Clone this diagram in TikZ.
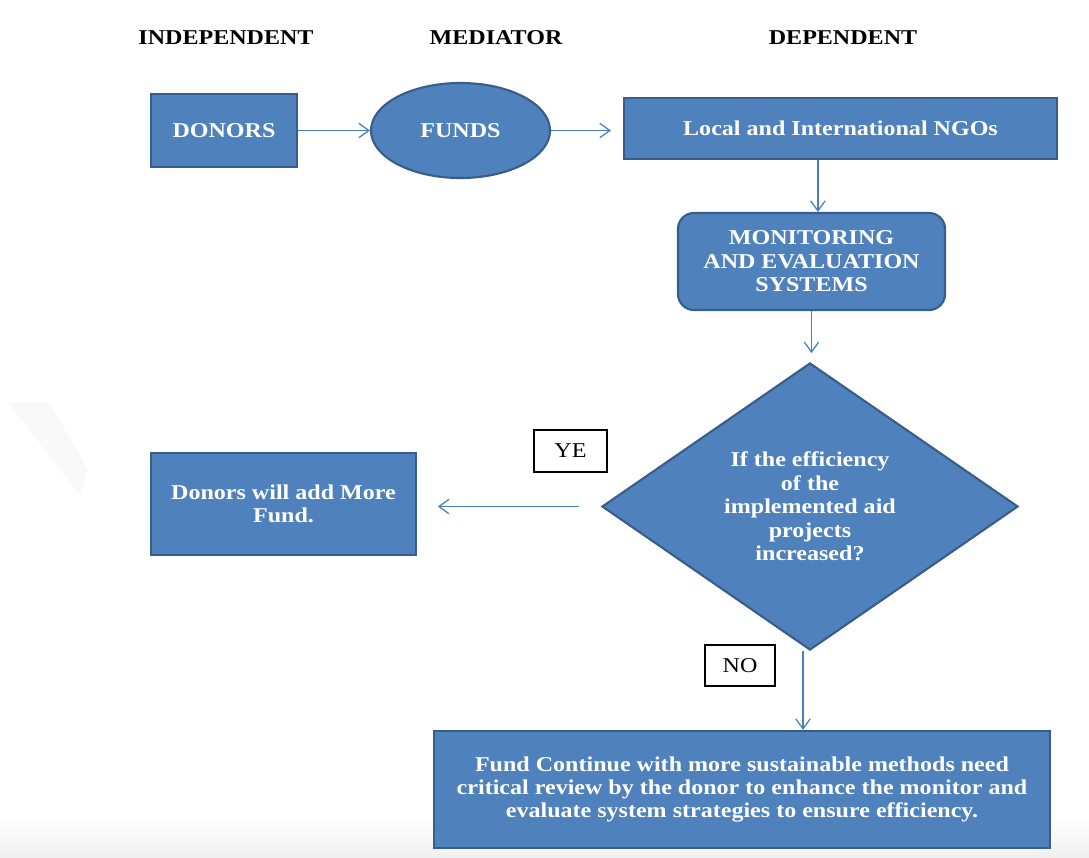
\documentclass[tikz,border=0pt]{standalone}
\usepackage{fontspec}
\setmainfont{Liberation Serif}[FakeStretch=1.14]
\usetikzlibrary{positioning,arrows.meta,calc,shapes.geometric}
\definecolor{boxblue}{HTML}{4F81BD}
\definecolor{boxedge}{HTML}{385D8A}
\definecolor{arrblue}{HTML}{4A7EBB}
\tikzset{
  box/.style={draw=boxedge,fill=boxblue,line width=1.5pt,align=center,text=white,font=\fontsize{15}{16.7}\selectfont\bfseries,inner sep=2pt},
  tag/.style={draw=black,fill=white,line width=0.8pt,font=\fontsize{15}{16}\selectfont},
  head/.style={font=\fontsize{15}{16}\selectfont\bfseries},
  arr/.style={-{Straight Barb[length=2.5mm,width=3.6mm]},draw=arrblue,line width=0.9pt},
}

\begin{document}
\begin{tikzpicture}[x=0.025cm,y=-0.025cm]
  \useasboundingbox (0,0) rectangle (1089,857);
  % faint page marks
  \fill[gray!5] (8,403) -- (50,403) -- (88,470) -- (80,495) -- cycle;
  \shade[top color=white,bottom color=gray!12] (0,818) rectangle (1089,857);
  % column headings
  \node[head] (hind) at (226,38) {INDEPENDENT};
  \node[head] (hmed) at (496,38) {MEDIATOR};
  \node[head] (hdep) at (843,38) {DEPENDENT};
  % top row
  \node[box,minimum width=3.65cm,minimum height=1.825cm] (donors) at (224,130.5) {DONORS};
  \node[box,ellipse,minimum width=4.475cm,minimum height=2.375cm] (funds) at (460.5,130.5) {FUNDS};
  \node[box,minimum width=10.825cm,minimum height=1.525cm] (ngo) at (840.5,128.5) {Local and International NGOs};
  \node[box,rounded corners=0.4cm,minimum width=6.675cm,minimum height=2.425cm] (me) at (811.5,261.5) {MONITORING\\AND EVALUATION\\SYSTEMS};
  % decision
  \node[box,diamond,inner sep=0pt,minimum width=10.4cm,minimum height=7.175cm] (dec) at (810,506.5) {};
  \node[align=center,text=white,font=\fontsize{15}{16.7}\selectfont\bfseries] (qtxt) at (dec.center) {If the efficiency\\of the\\implemented aid\\projects\\increased?};
  \node[box,minimum width=6.625cm,minimum height=2.55cm] (more) at (283.5,504) {Donors will add More\\Fund.};
  \node[box,minimum width=15.4cm,minimum height=2.925cm] (fin) at (742,789.5) {Fund Continue with more sustainable methods need\\critical review by the donor to enhance the monitor and\\evaluate system strategies to ensure efficiency.};
  % answer tags
  \node[tag,minimum width=1.825cm,minimum height=1.05cm] (yes) at (570.5,451) {YE};
  \node[tag,minimum width=1.75cm,minimum height=1.025cm] (no) at (740,665.5) {NO};
  % connectors
  \draw[arr] (donors) -- (funds);
  \draw[arr,shorten >=0.3cm] (funds.east) -- (funds.east -| ngo.west);
  \draw[arr] ([xshift=0.16cm]ngo.south -| me.north) -- ([xshift=0.16cm]me.north);
  \draw[arr,shorten >=0.22cm] (me.south) -- (me.south |- dec.north);
  \draw[arr,shorten <=0.55cm,shorten >=0.52cm] (dec.west) -- (dec.west -| more.east);
  \draw[arr] ([xshift=-0.175cm]dec.south) -- ([xshift=-0.175cm]dec.south |- fin.north);
\end{tikzpicture}
\end{document}
